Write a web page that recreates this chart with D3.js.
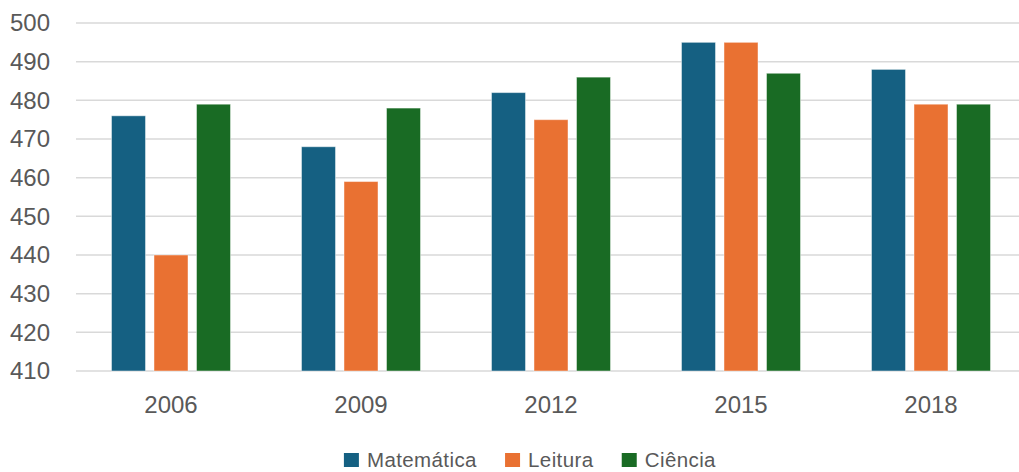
<!DOCTYPE html>
<html>
<head>
<meta charset="utf-8">
<script src="https://cdn.jsdelivr.net/npm/d3@7"></script>
<style>
  html, body { margin: 0; padding: 0; background: #fff; }
  svg { display: block; }
  text { font-family: "Liberation Sans", Arial, sans-serif; fill: #595959; }
</style>
</head>
<body>
<svg id="chart" width="1019" height="472"></svg>
<script>
// PISA scores by year and subject
const years = ["2006", "2009", "2012", "2015", "2018"];
const seriesNames = ["Matemática", "Leitura", "Ciência"];
const matematica = [476, 468, 482, 495, 488];
const leitura = [440, 459, 475, 495, 479];
const ciencia = [479, 478, 486, 487, 479];
const yTicks = [410, 420, 430, 440, 450, 460, 470, 480, 490, 500];
const colors = ["#156082", "#E97132", "#196B24"];

const seriesValues = [matematica, leitura, ciencia];
const rows = years.map((yr, i) => ({
  year: yr,
  values: seriesNames.map((s, k) => ({ key: s, value: seriesValues[k][i], k }))
}));

const svg = d3.select("#chart");
const plotLeft = 76, plotRight = 1026, plotTop = 23, plotBottom = 371;

const x = d3.scaleBand().domain(years).range([plotLeft, plotRight]).paddingInner(0).paddingOuter(0);
const y = d3.scaleLinear().domain([410, 500]).range([plotBottom, plotTop]);

// inner band for the three bars of each year
const barW = 34, gap = 8.5;
const x1 = d3.scaleBand().domain(seriesNames)
  .range([-(3 * barW + 2 * gap) / 2, (3 * barW + 2 * gap) / 2])
  .paddingInner(gap / (barW + gap)).paddingOuter(0);

// horizontal grid lines
svg.append("g")
  .selectAll("line")
  .data(yTicks)
  .join("line")
  .attr("x1", plotLeft)
  .attr("x2", 1019)
  .attr("y1", d => y(d))
  .attr("y2", d => y(d))
  .attr("stroke", "#d9d9d9")
  .attr("stroke-width", 1.5);

// y axis labels
const yAxis = d3.axisLeft(y).tickValues(yTicks).tickSize(0).tickPadding(0);
const gy = svg.append("g").attr("transform", `translate(50,0)`).call(yAxis);
gy.select(".domain").remove();
gy.selectAll("text")
  .attr("font-size", 24)
  .attr("font-family", "Liberation Sans, Arial, sans-serif")
  .attr("fill", "#595959");

// bars
svg.append("g")
  .selectAll("g")
  .data(rows)
  .join("g")
  .attr("transform", d => `translate(${x(d.year) + x.bandwidth() / 2},0)`)
  .selectAll("rect")
  .data(d => d.values)
  .join("rect")
  .attr("x", d => x1(d.key))
  .attr("width", x1.bandwidth())
  .attr("y", d => y(d.value))
  .attr("height", d => y(410) - y(d.value))
  .attr("fill", d => colors[d.k])
  .attr("stroke", "rgba(255,255,255,0.45)")
  .attr("stroke-width", 1);

// x axis labels
const xAxis = d3.axisBottom(x).tickSize(0).tickPadding(0);
const gx = svg.append("g").attr("transform", `translate(0,${plotBottom})`).call(xAxis);
gx.select(".domain").remove();
gx.selectAll("text")
  .attr("font-size", 24)
  .attr("font-family", "Liberation Sans, Arial, sans-serif")
  .attr("fill", "#595959")
  .attr("dy", null)
  .attr("y", 42);

// legend
const legend = svg.append("g").attr("transform", "translate(0,467)");
const sw = 14, swGap = 8, itemGap = 28;
const items = legend.selectAll("g").data(seriesNames).join("g");
items.append("rect")
  .attr("width", sw + 1).attr("height", sw)
  .attr("y", -sw)
  .attr("fill", (d, i) => colors[i]);
items.append("text")
  .attr("x", sw + 1 + swGap)
  .attr("font-size", 20.5)
  .attr("font-family", "DejaVu Sans, sans-serif")
  .attr("letter-spacing", 0.4)
  .text(d => d);
let widths = [];
items.each(function () { widths.push(this.getBBox().width); });
const total = d3.sum(widths) + itemGap * (widths.length - 1);
let cx = 530 - total / 2;
items.attr("transform", (d, i) => {
  const t = `translate(${cx},0)`;
  cx += widths[i] + itemGap;
  return t;
});
</script>
</body>
</html>
